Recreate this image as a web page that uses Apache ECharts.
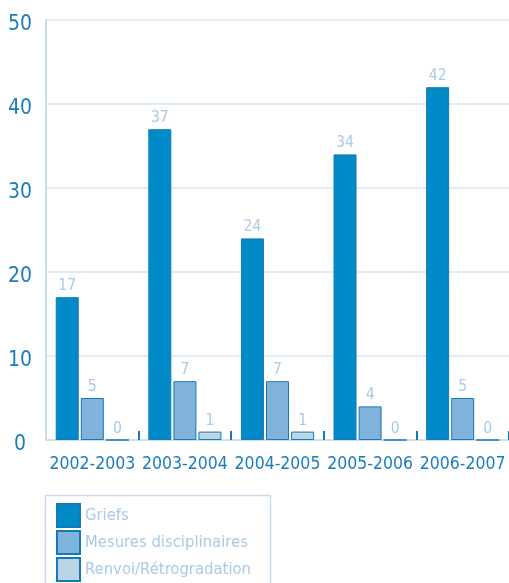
<!DOCTYPE html>
<html><head><meta charset="utf-8">
<script src="https://cdn.jsdelivr.net/npm/echarts@6/dist/echarts.min.js"></script>
<style>html,body{margin:0;padding:0;background:#fff}#c{width:509px;height:583px}</style>
</head><body><div id="c"></div>
<script>
var categories = ['2002-2003','2003-2004','2004-2005','2005-2006','2006-2007'];
var griefs = [17, 37, 24, 34, 42];
var mesures = [5, 7, 7, 4, 5];
var renvoi = [0, 1, 1, 0, 0];
var seriesNames = ['Griefs','Mesures disciplinaires','Renvoi/Rétrogradation'];
var yTicks = [0, 10, 20, 30, 40, 50];

var FONT = "'Liberation Sans Narrow','DejaVu Sans Condensed',sans-serif";
var chart = echarts.init(document.getElementById('c'), null, {renderer:'canvas'});
function mk(name, data, fill){
  return {
    name: name, type: 'bar', data: data,
    barGap: '9%', barCategoryGap: '21%',
    itemStyle: {color: fill, borderColor: '#1479b8', borderWidth: 1},
    label: {show: true, position: 'top', distance: 3, color: '#a9c9e8', fontSize: 15.5, fontFamily: FONT},
    emphasis: {disabled: true}, animation: false
  };
}
chart.setOption({
  animation: false,
  grid: {left: 46, right: 0, top: 20, bottom: 143, containLabel: false, outerBoundsMode: 'none'},
  graphic: [{
    type: 'rect', left: 43, top: 493,
    shape: {width: 225, height: 110},
    style: {fill: 'none', stroke: '#c8dcee', lineWidth: 1.5}, silent: true
  }],
  legend: {
    orient: 'vertical', left: 46, top: 501,
    itemWidth: 23, itemHeight: 23, itemGap: 2,
    padding: [2, 0, 0, 10],
    icon: 'rect',
    textStyle: {color: '#a9c9e8', fontSize: 16.5, fontFamily: FONT},
    data: seriesNames
  },
  xAxis: {
    type: 'category', data: categories,
    axisLine: {lineStyle: {color: '#c8dcee', width: 1.5}},
    axisTick: {show: true, inside: true, length: 9, interval: function(i){ return i !== 0; },
               lineStyle: {color: '#1479b8', width: 2}},
    axisLabel: {color: '#1a7cbd', fontSize: 17.5, fontFamily: FONT, margin: 15, interval: 0}
  },
  yAxis: {
    type: 'value', min: yTicks[0], max: yTicks[yTicks.length-1], interval: 10,
    axisLine: {show: true, lineStyle: {color: '#c8dcee', width: 2}},
    axisTick: {show: false},
    splitLine: {lineStyle: {color: '#d8e6f2', width: 1.5}},
    axisLabel: {
      color: '#1a7cbd', fontSize: 21, fontFamily: FONT, margin: 26, align: 'center',
      formatter: function(v){ return '{a|' + v + '}'; },
      rich: {a: {color: '#1a7cbd', fontSize: 21, fontFamily: FONT, padding: [10, 0, 0, 0]}}
    }
  },
  series: [
    mk(seriesNames[0], griefs, '#008bc8'),
    mk(seriesNames[1], mesures, '#80b3db'),
    mk(seriesNames[2], renvoi, '#bcd5e6')
  ]
});
</script></body></html>
